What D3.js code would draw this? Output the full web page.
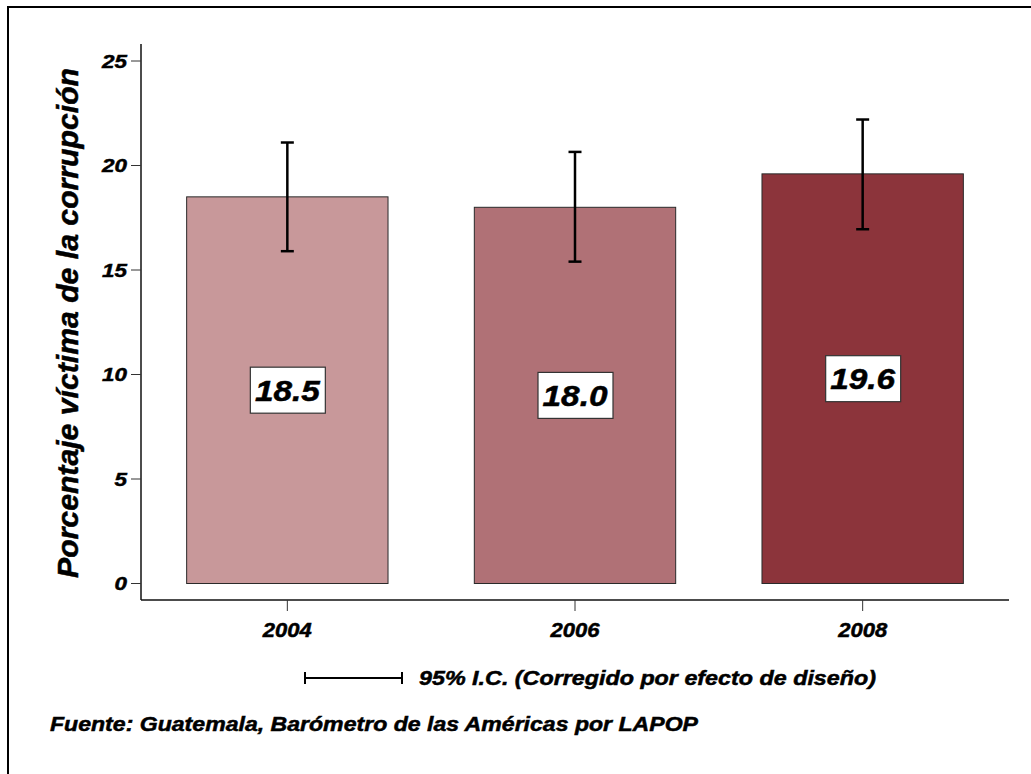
<!DOCTYPE html>
<html>
<head>
<meta charset="utf-8">
<script src="https://cdn.jsdelivr.net/npm/d3@7"></script>
<style>
  body { margin: 0; background: #fff; }
  svg text { font-family: "Liberation Sans", Arial, sans-serif; font-weight: bold; font-style: italic;
             fill: #000; stroke: #000; stroke-width: 0.5px; }
</style>
</head>
<body>
<div id="chart"></div>
<script>
// data
var years = ["2004", "2006", "2008"]
var values = [18.5, 18.0, 19.6]
var ciLow = [15.9, 15.4, 16.95]
var ciHigh = [21.1, 20.65, 22.2]
var barColors = ["#c8989a", "#b07176", "#8c343b"]
var yTicks = [0, 5, 10, 15, 20, 25]

var width = 1031, height = 774

var svg = d3.select("#chart").append("svg")
  .attr("width", width)
  .attr("height", height)

// the source font is a bit wider than Liberation, so stretch text sideways
function wideText(sel, sx) {
  return sel.append("text").attr("transform", "scale(" + sx + ",1)")
}

// outer frame (only top and left edges are visible)
svg.append("rect")
  .attr("x", 8).attr("y", 7)
  .attr("width", 1100).attr("height", 900)
  .attr("fill", "none")
  .attr("stroke", "#000")
  .attr("stroke-width", 2)

var x = d3.scaleBand()
  .domain(years)
  .range([143.5, 1006.5])
  .paddingInner(0.3)
  .paddingOuter(0.15)

var y = d3.scaleLinear()
  .domain([0, 25])
  .range([583.5, 61])

// axes lines
svg.append("line")
  .attr("x1", 141).attr("x2", 141)
  .attr("y1", 44).attr("y2", 600)
  .attr("stroke", "#111").attr("stroke-width", 1.5)

svg.append("line")
  .attr("x1", 141).attr("x2", 1009)
  .attr("y1", 600).attr("y2", 600)
  .attr("stroke", "#111").attr("stroke-width", 1.5)

// y ticks
var yAxis = svg.append("g")
yAxis.selectAll("line").data(yTicks).enter().append("line")
  .attr("x1", 131).attr("x2", 141)
  .attr("y1", function(d) { return y(d) })
  .attr("y2", function(d) { return y(d) })
  .attr("stroke", "#333").attr("stroke-width", 1)

var yLab = yAxis.selectAll(".ylab").data(yTicks).enter().append("g")
  .attr("class", "ylab")
  .attr("transform", function(d) { return "translate(127," + y(d) + ")" })
wideText(yLab, 1.18)
  .attr("dy", "0.36em")
  .attr("text-anchor", "end")
  .attr("font-size", 19)
  .text(function(d) { return d })

// x ticks
var xAxis = svg.append("g")
xAxis.selectAll("line").data(years).enter().append("line")
  .attr("x1", function(d) { return x(d) + x.bandwidth() / 2 })
  .attr("x2", function(d) { return x(d) + x.bandwidth() / 2 })
  .attr("y1", 600).attr("y2", 611)
  .attr("stroke", "#333").attr("stroke-width", 1)

var xLab = xAxis.selectAll(".xlab").data(years).enter().append("g")
  .attr("class", "xlab")
  .attr("transform", function(d) { return "translate(" + (x(d) + x.bandwidth() / 2) + ",637)" })
wideText(xLab, 1.1)
  .attr("text-anchor", "middle")
  .attr("font-size", 20)
  .text(function(d) { return d })

// bars
svg.selectAll(".bar").data(years).enter().append("rect")
  .attr("class", "bar")
  .attr("x", function(d) { return x(d) })
  .attr("y", function(d, i) { return y(values[i]) })
  .attr("width", x.bandwidth())
  .attr("height", function(d, i) { return y(0) - y(values[i]) })
  .attr("fill", function(d, i) { return barColors[i] })
  .attr("stroke", "#2a2a2a")
  .attr("stroke-width", 1)

// error bars
var err = svg.selectAll(".err").data(years).enter().append("g")
  .attr("class", "err")
  .attr("transform", function(d) { return "translate(" + (x(d) + x.bandwidth() / 2) + ",0)" })

err.append("line")
  .attr("x1", 0).attr("x2", 0)
  .attr("y1", function(d, i) { return y(ciHigh[i]) })
  .attr("y2", function(d, i) { return y(ciLow[i]) })
  .attr("stroke", "#000").attr("stroke-width", 2.5)

err.append("line")
  .attr("x1", -6.5).attr("x2", 6.5)
  .attr("y1", function(d, i) { return y(ciHigh[i]) })
  .attr("y2", function(d, i) { return y(ciHigh[i]) })
  .attr("stroke", "#000").attr("stroke-width", 2.5)

err.append("line")
  .attr("x1", -6.5).attr("x2", 6.5)
  .attr("y1", function(d, i) { return y(ciLow[i]) })
  .attr("y2", function(d, i) { return y(ciLow[i]) })
  .attr("stroke", "#000").attr("stroke-width", 2.5)

// value labels in boxes at mid height
var lab = svg.selectAll(".lab").data(years).enter().append("g")
  .attr("class", "lab")
  .attr("transform", function(d, i) {
    return "translate(" + (x(d) + x.bandwidth() / 2) + "," + y(values[i] / 2) + ")"
  })

lab.append("rect")
  .attr("x", -37).attr("y", -23)
  .attr("width", 75).attr("height", 46)
  .attr("fill", "#fff")
  .attr("stroke", "#333")
  .attr("stroke-width", 1.2)

wideText(lab, 1.15)
  .attr("dy", "0.36em")
  .attr("text-anchor", "middle")
  .attr("font-size", 29)
  .text(function(d, i) { return values[i].toFixed(1) })

// y title
svg.append("text")
  .attr("transform", "translate(78,323) rotate(-90)")
  .attr("text-anchor", "middle")
  .attr("font-size", 29)
  .attr("textLength", 510)
  .attr("lengthAdjust", "spacingAndGlyphs")
  .text("Porcentaje víctima de la corrupción")

// legend for confidence interval
var leg = svg.append("g")
leg.append("line")
  .attr("x1", 305).attr("x2", 402)
  .attr("y1", 678).attr("y2", 678)
  .attr("stroke", "#000").attr("stroke-width", 2)
leg.append("line")
  .attr("x1", 305).attr("x2", 305)
  .attr("y1", 672).attr("y2", 684)
  .attr("stroke", "#000").attr("stroke-width", 2)
leg.append("line")
  .attr("x1", 402).attr("x2", 402)
  .attr("y1", 672).attr("y2", 684)
  .attr("stroke", "#000").attr("stroke-width", 2)

leg.append("text")
  .attr("x", 419).attr("y", 685)
  .attr("font-size", 20)
  .attr("textLength", 457)
  .attr("lengthAdjust", "spacingAndGlyphs")
  .text("95% I.C. (Corregido por efecto de diseño)")

// source
svg.append("text")
  .attr("x", 50).attr("y", 731)
  .attr("font-size", 20)
  .attr("textLength", 648)
  .attr("lengthAdjust", "spacingAndGlyphs")
  .text("Fuente: Guatemala, Barómetro de las Américas por LAPOP")
</script>
</body>
</html>
